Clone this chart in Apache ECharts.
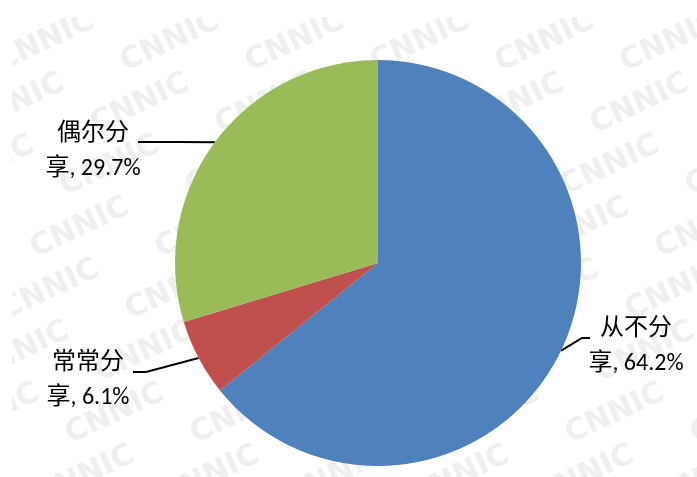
<!DOCTYPE html>
<html>
<head>
<meta charset="utf-8">
<style>
  html, body { margin: 0; padding: 0; background: #ffffff; }
  #chart { width: 697px; height: 477px; }
</style>
<script src="https://cdn.jsdelivr.net/npm/echarts@6/dist/echarts.min.js"></script>
</head>
<body>
<div id="chart"></div>
<script>
// Share of respondents by how often they share content
const categories = ['从不分享', '常常分享', '偶尔分享'];
const shares = [64.2, 6.1, 29.7];
const sliceColors = ['#4F81BD', '#C0504D', '#9BBB59'];

// Label block centres and leader-line bends, per slice
const labelSpots = [
  { x: 636, y: 346, bend: [[582, 338], [590, 338]] },
  { x: 88,  y: 380, bend: [[146, 372], [133, 372]] },
  { x: 93,  y: 151, bend: [[176, 142], [138, 142]] }
];

const chart = echarts.init(document.getElementById('chart'), null, { renderer: 'canvas' });

// Tiled "CNNIC" watermark behind the pie
const marks = [];
for (let r = -1; r < 9; r++) {
  for (let c = -1; c < 8; c++) {
    const cx = 170 + c * 125 - r * 30;
    const cy = 42 + r * 62;
    if (cx < -60 || cx > 760 || cy < -40 || cy > 520) continue;
    marks.push({
      type: 'text',
      x: cx, y: cy,
      rotation: 25 * Math.PI / 180,
      z: 0,
      silent: true,
      style: {
        text: 'CNNIC',
        fill: '#efefef',
        font: 'bold 30px "DejaVu Sans", sans-serif',
        align: 'center',
        verticalAlign: 'middle'
      }
    });
  }
}
// white margins at top and left that the watermark does not cover
marks.push({ type: 'rect', z: 1, silent: true, shape: { x: 0, y: 0, width: 697, height: 17 }, style: { fill: '#ffffff' } });
marks.push({ type: 'rect', z: 1, silent: true, shape: { x: 0, y: 0, width: 12, height: 477 }, style: { fill: '#ffffff' } });

const option = {
  backgroundColor: '#ffffff',
  animation: false,
  graphic: { elements: marks },
  series: [{
    type: 'pie',
    z: 5,
    center: [378, 263],
    radius: 203,
    startAngle: 90,
    clockwise: true,
    avoidLabelOverlap: false,
    data: categories.map((name, i) => ({
      name: name,
      value: shares[i],
      itemStyle: { color: sliceColors[i] }
    })),
    itemStyle: { borderWidth: 0 },
    label: {
      show: true,
      position: 'outside',
      color: '#000000',
      fontSize: 24,
      lineHeight: 35,
      fontFamily: 'Carlito, "Liberation Sans Narrow", "Noto Sans CJK SC", sans-serif',
      align: 'center',
      formatter: p => p.name.slice(0, 3) + '\n' + p.name.slice(3) + ', ' + p.value + '%'
    },
    labelLine: {
      show: true,
      length: 15,
      length2: 10,
      lineStyle: { color: '#000000', width: 2 }
    },
    labelLayout: function (params) {
      const spot = labelSpots[params.dataIndex];
      const start = params.labelLinePoints ? params.labelLinePoints[0] : spot.bend[0];
      return {
        x: spot.x,
        y: spot.y,
        align: 'center',
        verticalAlign: 'middle',
        labelLinePoints: [start, spot.bend[0], spot.bend[1]]
      };
    }
  }]
};

chart.setOption(option);
</script>
</body>
</html>
